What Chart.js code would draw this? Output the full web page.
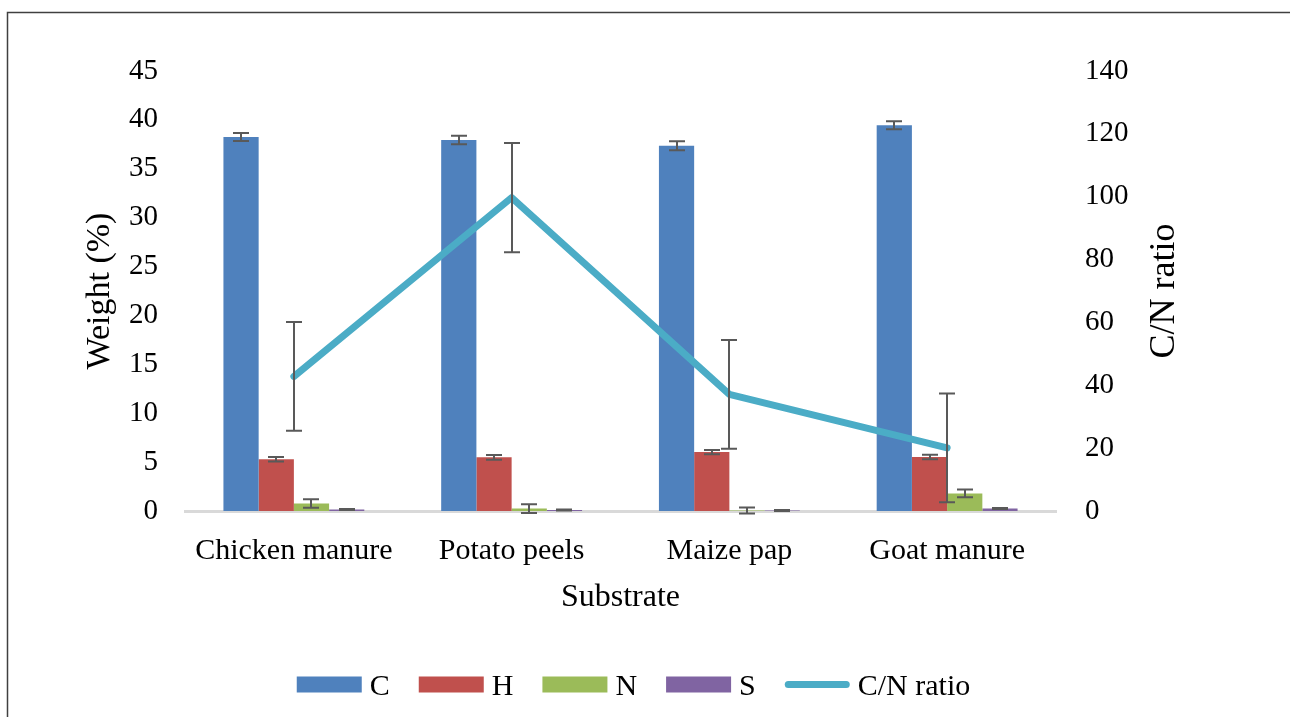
<!DOCTYPE html>
<html><head><meta charset="utf-8">
<script src="https://cdn.jsdelivr.net/npm/chart.js@4/dist/chart.umd.min.js"></script>
<style>html,body{margin:0;padding:0;background:#fff;overflow:hidden}#wrap{width:1290px;height:717px;position:relative}</style>
</head><body><div id="wrap"><canvas id="c" width="1290" height="717"></canvas></div>
<script>
const categories = ['Chicken manure', 'Potato peels', 'Maize pap', 'Goat manure'];
const carbon = [38.25, 37.95, 37.35, 39.45];
const carbonErr = [0.42, 0.44, 0.46, 0.40];
const hydrogen = [5.29, 5.49, 6.03, 5.52];
const hydrogenErr = [0.23, 0.24, 0.22, 0.24];
const nitrogen = [0.77, 0.25, 0.05, 1.8];
const nitrogenErr = [0.43, 0.45, 0.30, 0.40];
const sulfur = [0.15, 0.10, 0.05, 0.25];
const sulfurErr = [0.05, 0.05, 0.05, 0.05];
const cnRatio = [42.8, 99.7, 37.1, 20.1];
const cnRatioErr = [17.3, 17.4, 17.3, 17.3];
const weightTicks = {min: 0, max: 45, step: 5};
const ratioTicks = {min: 0, max: 140, step: 20};
const seriesNames = ['C', 'H', 'N', 'S', 'C/N ratio'];
const seriesColors = ['#4F81BD', '#C0504D', '#9BBB59', '#8064A2', '#4BACC6'];

const FONT = "'Liberation Serif', 'Times New Roman', serif";

const backgroundBorder = {
  id: 'backgroundBorder',
  beforeDraw(chart) {
    const ctx = chart.ctx;
    ctx.save();
    ctx.fillStyle = '#fff';
    ctx.fillRect(0, 0, chart.width, chart.height);
    ctx.strokeStyle = '#404040';
    ctx.lineWidth = 1.5;
    ctx.strokeRect(7.5, 12.5, 1400, 900);
    ctx.restore();
  }
};

const errorBars = {
  id: 'errorBars',
  afterDatasetsDraw(chart) {
    const ctx = chart.ctx;
    ctx.save();
    ctx.strokeStyle = '#595959';
    ctx.lineWidth = 2;
    chart.data.datasets.forEach((ds, i) => {
      if (!ds.errors) return;
      const meta = chart.getDatasetMeta(i);
      const scale = chart.scales[ds.yAxisID];
      meta.data.forEach((el, j) => {
        const v = ds.data[j], e = ds.errors[j];
        const x = Math.round(el.x);
        const yt = scale.getPixelForValue(v + e);
        const yb = scale.getPixelForValue(v - e);
        ctx.beginPath();
        ctx.moveTo(x, yt); ctx.lineTo(x, yb);
        ctx.moveTo(x - 8, yt); ctx.lineTo(x + 8, yt);
        ctx.moveTo(x - 8, yb); ctx.lineTo(x + 8, yb);
        ctx.stroke();
      });
    });
    ctx.restore();
  }
};

const customText = {
  id: 'customText',
  afterDraw(chart) {
    const ctx = chart.ctx;
    ctx.save();
    // right axis title, reading bottom-to-top
    const y1 = chart.scales.y1;
    ctx.translate(1165, (y1.top + y1.bottom) / 2);
    ctx.rotate(-Math.PI / 2);
    ctx.font = '36px ' + FONT;
    ctx.fillStyle = '#000';
    ctx.textAlign = 'center';
    ctx.textBaseline = 'middle';
    ctx.fillText(y1.options.title.text, 0, 0);
    ctx.restore();

    // legend
    ctx.save();
    ctx.font = '30px ' + FONT;
    const boxW = 65, boxH = 16, gap = 8, spacing = 29;
    const items = chart.data.datasets.map(ds => ({label: ds.label, color: ds.type === 'line' ? ds.borderColor : ds.backgroundColor, line: ds.type === 'line'}));
    let total = 0;
    items.forEach((it, k) => { it.w = ctx.measureText(it.label).width; total += boxW + gap + it.w + (k < items.length - 1 ? spacing : 0); });
    let x = 633.5 - total / 2;
    const cy = 684.5;
    items.forEach(it => {
      if (it.line) {
        ctx.strokeStyle = it.color; ctx.lineWidth = 7; ctx.lineCap = 'round';
        ctx.beginPath(); ctx.moveTo(x + 3.5, cy); ctx.lineTo(x + boxW - 3.5, cy); ctx.stroke();
      } else {
        ctx.fillStyle = it.color;
        ctx.fillRect(x, cy - boxH / 2, boxW, boxH);
      }
      ctx.fillStyle = '#000';
      ctx.textBaseline = 'alphabetic';
      ctx.textAlign = 'left';
      ctx.fillText(it.label, x + boxW + gap, 694.5);
      x += boxW + gap + it.w + spacing;
    });
    ctx.restore();
  }
};

const barDs = (k, data, errs) => ({
  type: 'bar', label: seriesNames[k], data, errors: errs, yAxisID: 'y',
  backgroundColor: seriesColors[k], borderWidth: 0, order: 1,
  barPercentage: 1.0, categoryPercentage: 0.647
});

new Chart(document.getElementById('c'), {
  data: {
    labels: categories,
    datasets: [
      barDs(0, carbon, carbonErr),
      barDs(1, hydrogen, hydrogenErr),
      barDs(2, nitrogen, nitrogenErr),
      barDs(3, sulfur, sulfurErr),
      {
        type: 'line', label: seriesNames[4], data: cnRatio, errors: cnRatioErr, yAxisID: 'y1',
        borderColor: seriesColors[4], backgroundColor: seriesColors[4], borderWidth: 7,
        pointRadius: 0, tension: 0, fill: false, order: 0,
        borderCapStyle: 'round', borderJoinStyle: 'round'
      }
    ]
  },
  options: {
    responsive: false,
    animation: false,
    devicePixelRatio: 1,
    layout: {padding: {top: 71, left: 0, right: 0, bottom: 0}},
    plugins: {legend: {display: false}, tooltip: {enabled: false}},
    scales: {
      x: {
        type: 'category',
        grid: {display: false, drawTicks: false},
        border: {display: true, color: '#D9D9D9', width: 3},
        ticks: {color: '#000', font: {family: FONT, size: 30}, padding: 22, maxRotation: 0, autoSkip: false},
        title: {display: true, text: 'Substrate', color: '#000', font: {family: FONT, size: 32, lineHeight: 1}, padding: {top: 0, bottom: 103}},
        afterFit(s) { s.height = 206; }
      },
      y: {
        position: 'left',
        min: weightTicks.min, max: weightTicks.max,
        grid: {display: false, drawTicks: false},
        border: {display: false},
        ticks: {stepSize: weightTicks.step, color: '#000', font: {family: FONT, size: 29}, padding: 27},
        title: {display: true, text: 'Weight (%)', color: '#000', font: {family: FONT, size: 34, lineHeight: 1}, padding: {top: 83, bottom: 0}},
        afterFit(s) { s.width = 185; }
      },
      y1: {
        position: 'right',
        min: ratioTicks.min, max: ratioTicks.max,
        grid: {display: false, drawTicks: false},
        border: {display: false},
        ticks: {stepSize: ratioTicks.step, color: '#000', font: {family: FONT, size: 29}, padding: 29},
        title: {display: false, text: 'C/N ratio'},
        afterFit(s) { s.width = 234; }
      }
    }
  },
  plugins: [backgroundBorder, errorBars, customText]
});
</script></body></html>
